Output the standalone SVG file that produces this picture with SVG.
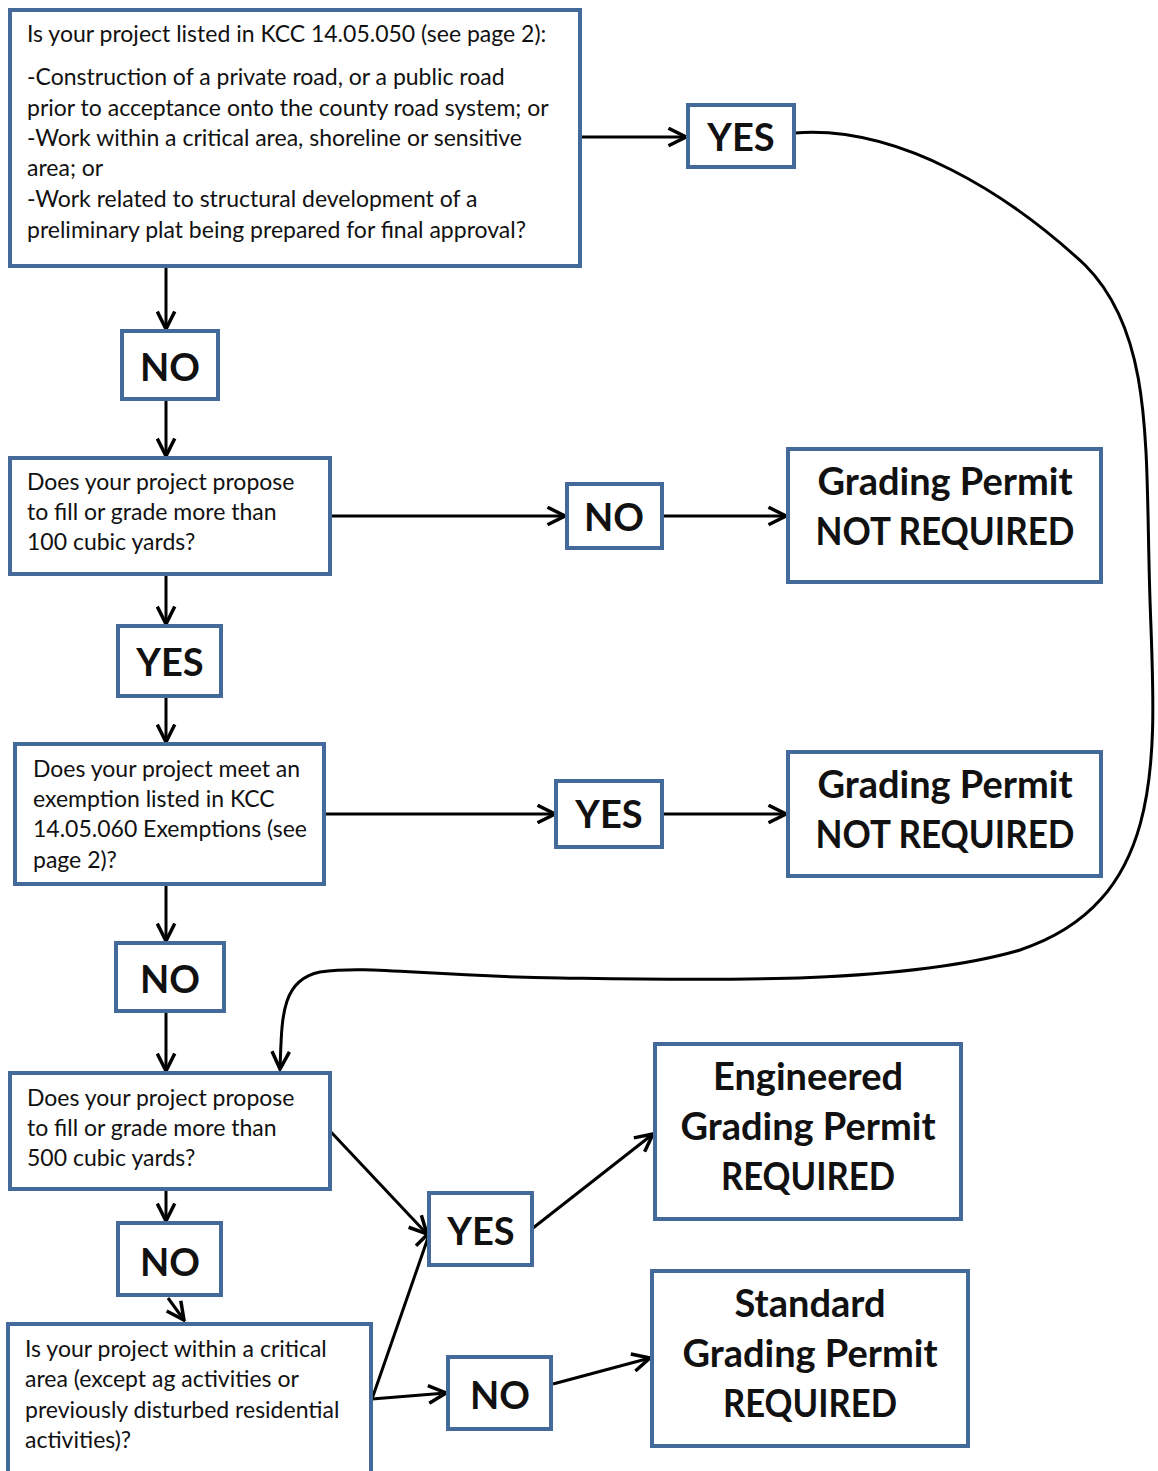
<svg xmlns="http://www.w3.org/2000/svg" width="1158" height="1471" viewBox="0 0 1158 1471">
<style>
.box{fill:#fff;stroke:#44699b;stroke-width:4}
.q{font-family:Lato,"Liberation Sans",sans-serif;font-size:23px;fill:#111}
.b{font-family:Lato,"Liberation Sans",sans-serif;font-weight:bold;font-size:38px;fill:#111;text-anchor:middle}
.r{font-family:Lato,"Liberation Sans",sans-serif;font-weight:bold;font-size:38px;fill:#111;text-anchor:middle}
.c{fill:none;stroke:#000;stroke-width:3;marker-end:url(#ah)}
</style>
<defs>
<marker id="ah" viewBox="0 0 12 12" refX="11" refY="6" markerWidth="7" markerHeight="7" orient="auto" markerUnits="strokeWidth">
<path d="M1,1 L11,6 L1,11" fill="none" stroke="#000" stroke-width="2"/>
</marker>
</defs>
<rect width="1158" height="1471" fill="#fff"/>
<g id="connectors">
<line class="c" x1="580" y1="137" x2="686" y2="137"/>
<path class="c" d="M795,133 C900,125 1010,195 1085,265 C1155,335 1145,450 1150,600 C1155,750 1170,900 1020,950 C900,985 700,980 560,978 C420,976 370,965 320,972 C280,980 282,1020 280,1069"/>
<line class="c" x1="166" y1="267" x2="166" y2="329"/>
<line class="c" x1="166" y1="399" x2="166" y2="456"/>
<line class="c" x1="331" y1="516" x2="565" y2="516"/>
<line class="c" x1="662" y1="516" x2="786" y2="516"/>
<line class="c" x1="166" y1="574" x2="166" y2="624"/>
<line class="c" x1="166" y1="697" x2="166" y2="742"/>
<line class="c" x1="325" y1="814" x2="555" y2="814"/>
<line class="c" x1="662" y1="814" x2="786" y2="814"/>
<line class="c" x1="166" y1="884" x2="166" y2="941"/>
<line class="c" x1="166" y1="1012" x2="166" y2="1071"/>
<line class="c" x1="166" y1="1190" x2="166" y2="1221"/>
<line class="c" x1="168" y1="1298" x2="184" y2="1320"/>
<line class="c" x1="331" y1="1132" x2="427" y2="1234"/>
<line class="c" x1="533" y1="1228" x2="653" y2="1134"/>
<line class="c" x1="372" y1="1399" x2="430" y2="1232"/>
<line class="c" x1="372" y1="1399" x2="446" y2="1393"/>
<line class="c" x1="553" y1="1384" x2="650" y2="1358"/>
</g>
<g id="q1">
<rect class="box" x="10" y="10" width="570" height="256"/>
<text class="q" x="27" y="42">Is your project listed in KCC 14.05.050 (see page 2):</text>
<text class="q" x="27" y="85">-Construction of a private road, or a public road</text>
<text class="q" x="27" y="116">prior to acceptance onto the county road system; or</text>
<text class="q" x="27" y="146">-Work within a critical area, shoreline or sensitive</text>
<text class="q" x="27" y="176">area; or</text>
<text class="q" x="27" y="207">-Work related to structural development of a</text>
<text class="q" x="27" y="238">preliminary plat being prepared for final approval?</text>
</g>
<g id="yes1"><rect class="box" x="688" y="105" width="106" height="62"/><text class="b" x="741" y="151">YES</text></g>
<g id="no1"><rect class="box" x="122" y="331" width="96" height="68"/><text class="b" x="170" y="381">NO</text></g>
<g id="q2">
<rect class="box" x="10" y="458" width="320" height="116"/>
<text class="q" x="27" y="490">Does your project propose</text>
<text class="q" x="27" y="520">to fill or grade more than</text>
<text class="q" x="27" y="550">100 cubic yards?</text>
</g>
<g id="no2"><rect class="box" x="567" y="484" width="95" height="64"/><text class="b" x="614" y="531">NO</text></g>
<g id="gp1">
<rect class="box" x="788" y="449" width="313" height="133"/>
<text class="r" x="945" y="495">Grading Permit</text>
<text class="r" x="945" y="545" textLength="259" lengthAdjust="spacingAndGlyphs">NOT REQUIRED</text>
</g>
<g id="yes2"><rect class="box" x="118" y="626" width="103" height="70"/><text class="b" x="170" y="676">YES</text></g>
<g id="q3">
<rect class="box" x="15" y="744" width="309" height="140"/>
<text class="q" x="33" y="777">Does your project meet an</text>
<text class="q" x="33" y="807">exemption listed in KCC</text>
<text class="q" x="33" y="837">14.05.060 Exemptions (see</text>
<text class="q" x="33" y="868">page 2)?</text>
</g>
<g id="yes3"><rect class="box" x="556" y="781" width="106" height="66"/><text class="b" x="609" y="828">YES</text></g>
<g id="gp2">
<rect class="box" x="788" y="752" width="313" height="124"/>
<text class="r" x="945" y="798">Grading Permit</text>
<text class="r" x="945" y="848" textLength="259" lengthAdjust="spacingAndGlyphs">NOT REQUIRED</text>
</g>
<g id="no3"><rect class="box" x="116" y="943" width="108" height="68"/><text class="b" x="170" y="993">NO</text></g>
<g id="q4">
<rect class="box" x="10" y="1073" width="320" height="116"/>
<text class="q" x="27" y="1106">Does your project propose</text>
<text class="q" x="27" y="1136">to fill or grade more than</text>
<text class="q" x="27" y="1166">500 cubic yards?</text>
</g>
<g id="no4"><rect class="box" x="118" y="1223" width="103" height="72"/><text class="b" x="170" y="1276">NO</text></g>
<g id="q5">
<rect class="box" x="8" y="1324" width="363" height="160"/>
<text class="q" x="25" y="1357">Is your project within a critical</text>
<text class="q" x="25" y="1387">area (except ag activities or</text>
<text class="q" x="25" y="1418">previously disturbed residential</text>
<text class="q" x="25" y="1448">activities)?</text>
</g>
<g id="yes4"><rect class="box" x="429" y="1193" width="103" height="72"/><text class="b" x="481" y="1245">YES</text></g>
<g id="eng">
<rect class="box" x="655" y="1044" width="306" height="175"/>
<text class="r" x="808" y="1090">Engineered</text>
<text class="r" x="808" y="1140">Grading Permit</text>
<text class="r" x="808" y="1190" textLength="174" lengthAdjust="spacingAndGlyphs">REQUIRED</text>
</g>
<g id="no5"><rect class="box" x="448" y="1357" width="103" height="72"/><text class="b" x="500" y="1409">NO</text></g>
<g id="std">
<rect class="box" x="652" y="1271" width="316" height="175"/>
<text class="r" x="810" y="1317">Standard</text>
<text class="r" x="810" y="1367">Grading Permit</text>
<text class="r" x="810" y="1417" textLength="174" lengthAdjust="spacingAndGlyphs">REQUIRED</text>
</g>
</svg>
